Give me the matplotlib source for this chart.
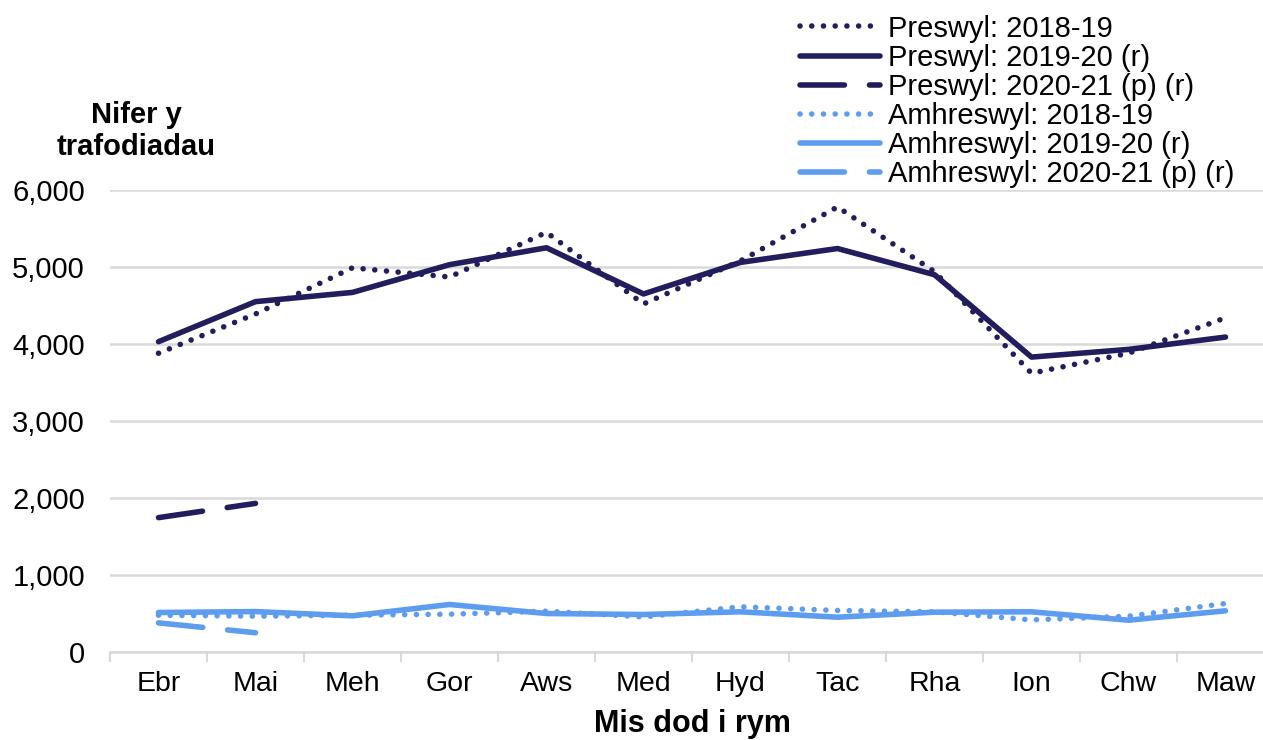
import matplotlib.pyplot as plt
import numpy as np

plt.rcParams['font.family'] = ['Liberation Sans', 'DejaVu Sans']

meses = ["Ebr", "Mai", "Meh", "Gor", "Aws", "Med", "Hyd", "Tac", "Rha", "Ion", "Chw", "Maw"]

preswyl_1819 = [3880, 4390, 4990, 4870, 5450, 4520, 5080, 5780, 4940, 3620, 3880, 4340]
preswyl_1920 = [4030, 4550, 4670, 5030, 5250, 4650, 5060, 5240, 4900, 3830, 3930, 4090]
preswyl_2021 = [1745, 1930]

amhreswyl_1819 = [478, 465, 478, 491, 530, 455, 587, 539, 522, 417, 465, 630]
amhreswyl_1920 = [513, 525, 470, 617, 500, 487, 522, 452, 517, 522, 413, 535]
amhreswyl_2021 = [378, 250]

navy = "#221E5E"
glas = "#5E9CF0"

fig = plt.figure(figsize=(12.63, 7.40), dpi=100)
ax = fig.add_axes([110 / 1263, 1 - 652 / 740, 1164 / 1263, 462 / 740])

x = np.arange(len(meses))
lw = 4
dot = (0, (0.01, 2.1))
dash = (0, (8, 4.5))

ax.plot(x, preswyl_1819, color=navy, lw=lw, linestyle=dot, dash_capstyle="round", label="Preswyl: 2018-19")
ax.plot(x, preswyl_1920, color=navy, lw=lw, solid_capstyle="round", label="Preswyl: 2019-20 (r)")
ax.plot(x[:2], preswyl_2021, color=navy, lw=lw, linestyle=dash, dash_capstyle="round", label="Preswyl: 2020-21 (p) (r)")
ax.plot(x, amhreswyl_1819, color=glas, lw=lw, linestyle=dot, dash_capstyle="round", label="Amhreswyl: 2018-19")
ax.plot(x, amhreswyl_1920, color=glas, lw=lw, solid_capstyle="round", label="Amhreswyl: 2019-20 (r)")
ax.plot(x[:2], amhreswyl_2021, color=glas, lw=lw, linestyle=dash, dash_capstyle="round", label="Amhreswyl: 2020-21 (p) (r)")

ax.set_xlim(-0.5, 11.5)
ax.set_ylim(0, 6000)
ax.set_yticks(range(0, 6001, 1000))
ax.set_yticklabels([f"{v:,}" for v in range(0, 6001, 1000)], fontsize=21)
ax.set_xticks(x)
ax.set_xticklabels(meses, fontsize=20.5)
ax.set_xticks(np.arange(-0.5, 12, 1), minor=True)
ax.tick_params(axis="x", which="major", length=0, pad=14)
ax.tick_params(axis="x", which="minor", length=7, width=1.5, color="#D9D9D9")
ax.tick_params(axis="y", length=0, pad=18)
ax.grid(axis="y", color="#D9D9D9", lw=1.8)
ax.set_axisbelow(True)
for s in ["top", "right", "left"]:
    ax.spines[s].set_visible(False)
ax.spines["bottom"].set_color("#D9D9D9")
ax.spines["bottom"].set_linewidth(1.8)

fig.text(136 / 1263, 1 - 131 / 740, "Nifer y\ntrafodiadau", ha="center", va="center",
         fontsize=21, fontweight="bold", linespacing=1.15)
fig.text(692 / 1263, 1 - 724 / 740, "Mis dod i rym", ha="center", va="center",
         fontsize=22, fontweight="bold")

fig.legend(loc="upper left", bbox_to_anchor=(785 / 1263, 1.0), frameon=False,
           fontsize=21, handlelength=2.75, handletextpad=0.28, labelspacing=0.04, borderpad=0)

fig.savefig("out.png", dpi=100)
